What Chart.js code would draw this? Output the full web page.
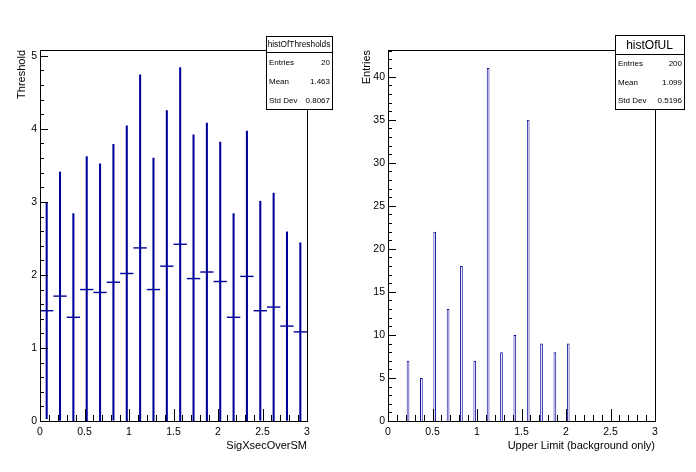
<!DOCTYPE html>
<html>
<head>
<meta charset="utf-8">
<script src="https://cdn.jsdelivr.net/npm/chart.js@4.4.0/dist/chart.umd.min.js"></script>
<style>
  body { margin: 0; background: #fff; }
  .pad { position: absolute; top: 0; width: 348px; height: 472px; }
</style>
</head>
<body>
<div class="pad" style="left:0"><canvas id="thr"></canvas></div>
<div class="pad" style="left:348px"><canvas id="ul"></canvas></div>
<script>
// histOfThresholds: mean threshold per SigXsecOverSM bin (bin width 0.15)
var thrCenters = [0.075, 0.225, 0.375, 0.525, 0.675, 0.825, 0.975, 1.125, 1.275, 1.425,
                  1.575, 1.725, 1.875, 2.025, 2.175, 2.325, 2.475, 2.625, 2.775, 2.925];
var thrValues = [1.51, 1.71, 1.42, 1.80, 1.76, 1.90, 2.02, 2.37, 1.80, 2.12,
                 2.42, 1.95, 2.04, 1.91, 1.42, 1.98, 1.51, 1.56, 1.30, 1.22];
var thrErrors = [1.48, 1.70, 1.42, 1.82, 1.76, 1.89, 2.02, 2.37, 1.80, 2.13,
                 2.42, 1.97, 2.04, 1.91, 1.42, 1.99, 1.50, 1.56, 1.29, 1.22];
var thrBinWidth = 0.15;
var thrStats = ['histOfThresholds', '20', '1.463', '0.8067'];

// histOfUL: counts of upper limits (bin width 0.03), only non-empty bins
var ulCenters = [0.225, 0.375, 0.525, 0.675, 0.825, 0.975, 1.125, 1.275, 1.425, 1.575, 1.725, 1.875, 2.025];
var ulCounts = [7, 5, 22, 13, 18, 7, 41, 8, 10, 35, 9, 8, 9];
var ulBinWidth = 0.03;
var ulStats = ['histOfUL', '200', '1.099', '0.5196'];

var statLabels = ['Entries', 'Mean', 'Std Dev'];

// tick labels
var xTicks = [0, 0.5, 1, 1.5, 2, 2.5, 3];
var thrYTicks = [0, 1, 2, 3, 4, 5];
var ulYTicks = [0, 5, 10, 15, 20, 25, 30, 35, 40];

var blue = '#000099';
var fontFam = '"Liberation Sans", Arial, Helvetica, sans-serif';

// ROOT like frame, inward ticks and stat box
var rootPad = {
    id: 'rootPad',
    afterDatasetsDraw(chart, args, o) {
        var ctx = chart.ctx, a = chart.chartArea;
        var sx = chart.scales.x, sy = chart.scales.y;
        ctx.save();
        ctx.strokeStyle = '#000';
        ctx.lineWidth = 1;
        ctx.beginPath();
        var n, i, v, p, len;
        n = Math.round((sx.max - sx.min) / o.xMinor);
        for (i = 0; i <= n; i++) {
            v = sx.min + i * o.xMinor;
            len = Math.abs(v / o.xMajor - Math.round(v / o.xMajor)) < 1e-6 ? 12 : 6;
            p = Math.round(sx.getPixelForValue(v)) + 0.5;
            ctx.moveTo(p, a.bottom);
            ctx.lineTo(p, a.bottom - len);
        }
        n = Math.floor((sy.max - sy.min) / o.yMinor + 1e-6);
        for (i = 0; i <= n; i++) {
            v = sy.min + i * o.yMinor;
            len = Math.abs(v / o.yMajor - Math.round(v / o.yMajor)) < 1e-6 ? 8 : 4;
            p = Math.round(sy.getPixelForValue(v)) + 0.5;
            ctx.moveTo(a.left, p);
            ctx.lineTo(a.left + len, p);
        }
        ctx.stroke();
        ctx.strokeRect(Math.round(a.left) + 0.5, Math.round(a.top) + 0.5,
            Math.round(a.right - a.left), Math.round(a.bottom - a.top));
        ctx.restore();
    },
    afterDraw(chart, args, o) {
        var ctx = chart.ctx, b = o.box, s = o.stats;
        ctx.save();
        ctx.fillStyle = '#fff';
        ctx.fillRect(b.x, b.y, b.w, b.h);
        ctx.strokeStyle = '#000';
        ctx.lineWidth = 1;
        ctx.strokeRect(b.x + 0.5, b.y + 0.5, b.w, b.h);
        ctx.beginPath();
        ctx.moveTo(b.x, b.y + b.th + 0.5);
        ctx.lineTo(b.x + b.w, b.y + b.th + 0.5);
        ctx.stroke();
        ctx.fillStyle = '#000';
        ctx.textBaseline = 'middle';
        ctx.textAlign = 'center';
        ctx.font = b.tf + 'px ' + fontFam;
        ctx.fillText(s[0], b.x + b.w / 2, b.y + b.th / 2 + 1);
        ctx.font = '8px ' + fontFam;
        var rh = (b.h - b.th) / 3;
        for (var i = 0; i < 3; i++) {
            var y = b.y + b.th + rh * (i + 0.5) + 1;
            ctx.textAlign = 'left';
            ctx.fillText(statLabels[i], b.x + 3, y);
            ctx.textAlign = 'right';
            ctx.fillText(s[i + 1], b.x + b.w - 2, y);
        }
        ctx.restore();
    }
};

function plainLabel(v) { return String(v); }

function axes(yTicks, yMax, yTitle, yTitlePad, xTitle) {
    return {
        x: {
            type: 'linear', min: 0, max: 3, offset: false,
            grid: { display: false, drawTicks: false, offset: false },
            border: { display: false },
            afterBuildTicks: function (s) { s.ticks = xTicks.map(function (v) { return { value: v }; }); },
            afterFit: function (s) { s.height = 51; },
            ticks: { color: '#000', padding: 5, maxRotation: 0, autoSkip: false, callback: plainLabel,
                     font: { family: fontFam, size: 10.5 } },
            title: { display: true, text: xTitle, align: 'end', color: '#000',
                     font: { family: fontFam, size: 11 }, padding: { top: 0, bottom: 19 } }
        },
        y: {
            type: 'linear', min: 0, max: yMax,
            grid: { display: false, drawTicks: false },
            border: { display: false },
            afterBuildTicks: function (s) { s.ticks = yTicks.map(function (v) { return { value: v }; }); },
            afterFit: function (s) { s.width = 40; },
            ticks: { color: '#000', padding: 3, autoSkip: false, callback: plainLabel,
                     font: { family: fontFam, size: 10.5 } },
            title: { display: true, text: yTitle, align: 'end', color: '#000',
                     font: { family: fontFam, size: 11 }, padding: { top: yTitlePad, bottom: 0 } }
        }
    };
}

var common = {
    responsive: true,
    maintainAspectRatio: false,
    animation: false,
    devicePixelRatio: 1,
    events: [],
    layout: { padding: { top: 50, right: 41, left: 0, bottom: 0 } }
};

// left pad: threshold vs SigXsecOverSM with error bars
new Chart(document.getElementById('thr'), {
    type: 'bar',
    data: {
        datasets: [{
            type: 'bar',
            data: thrCenters.map(function (c, i) { return { x: c, y: [thrValues[i] - thrErrors[i], thrValues[i] + thrErrors[i]] }; }),
            backgroundColor: blue,
            borderWidth: 0,
            barThickness: 1.4,
            grouped: false
        }, {
            type: 'scatter',
            data: thrCenters.map(function (c, i) { return { x: c, y: thrValues[i] }; }),
            pointStyle: 'line',
            borderColor: blue,
            pointBorderWidth: 1.4,
            pointRadius: function (ctx) {
                var s = ctx.chart.scales.x;
                return (s.getPixelForValue(thrBinWidth) - s.getPixelForValue(0)) / 2;
            }
        }]
    },
    options: Object.assign({}, common, {
        scales: axes(thrYTicks, 5.08, 'Threshold', 15, 'SigXsecOverSM'),
        plugins: {
            legend: { display: false },
            tooltip: { enabled: false },
            rootPad: { xMajor: 0.5, xMinor: 0.1, yMajor: 1, yMinor: 0.2, stats: thrStats,
                       box: { x: 266, y: 36, w: 66, h: 73, th: 16, tf: 8.3 } }
        }
    }),
    plugins: [rootPad]
});

// right pad: histogram of upper limits
new Chart(document.getElementById('ul'), {
    type: 'bar',
    data: {
        datasets: [{
            data: ulCenters.map(function (c, i) { return { x: c, y: ulCounts[i] }; }),
            backgroundColor: '#fff',
            borderColor: blue,
            borderWidth: 1,
            borderSkipped: 'start',
            categoryPercentage: 1,
            barPercentage: ulBinWidth / thrBinWidth
        }]
    },
    options: Object.assign({}, common, {
        scales: axes(ulYTicks, 43.1, 'Entries', 12, 'Upper Limit (background only)'),
        plugins: {
            legend: { display: false },
            tooltip: { enabled: false },
            rootPad: { xMajor: 0.5, xMinor: 0.1, yMajor: 5, yMinor: 1, stats: ulStats,
                       box: { x: 267, y: 35, w: 69, h: 74, th: 19, tf: 12 } }
        }
    }),
    plugins: [rootPad]
});
</script>
</body>
</html>
